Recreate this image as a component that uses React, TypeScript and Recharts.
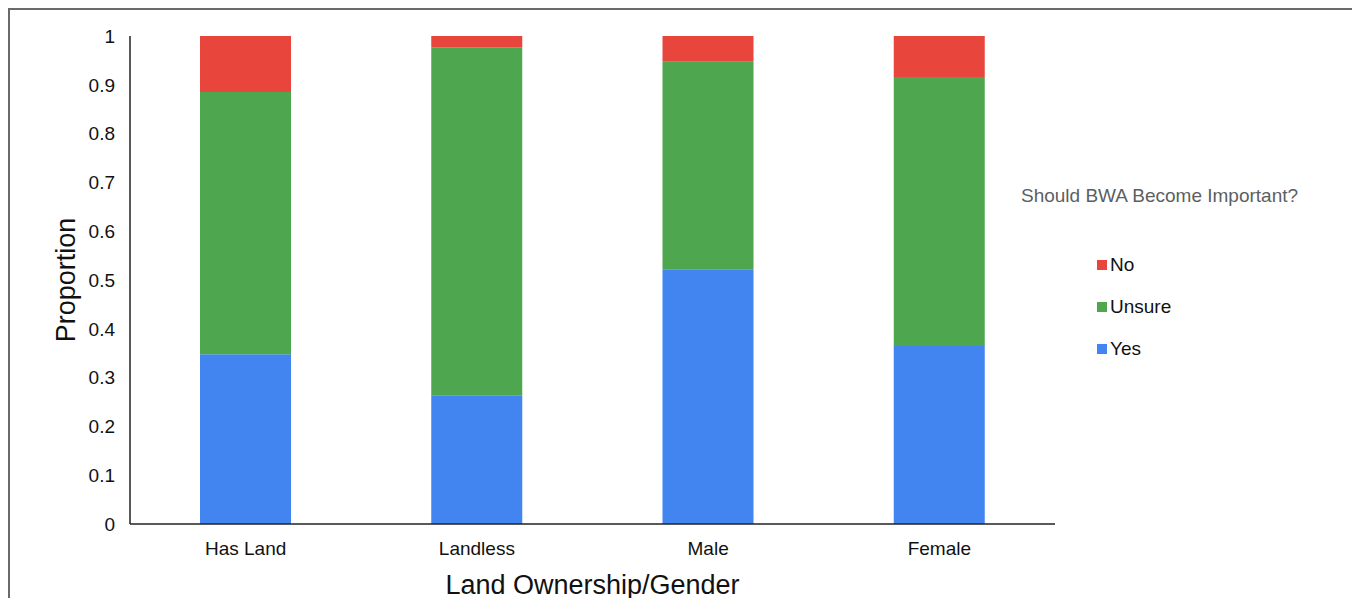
import { Bar, BarChart, Legend, XAxis, YAxis } from "recharts"

const categories = ["Has Land", "Landless", "Male", "Female"]
const yesValues = [0.348, 0.264, 0.522, 0.365]
const unsureValues = [0.537, 0.713, 0.425, 0.551]
const noValues = [0.115, 0.023, 0.053, 0.084]
const yTicks = [0, 0.1, 0.2, 0.3, 0.4, 0.5, 0.6, 0.7, 0.8, 0.9, 1]

const FONT = '"Liberation Sans", Arial, sans-serif'

const series = [
  { key: "no", name: "No", color: "#e8453c" },
  { key: "unsure", name: "Unsure", color: "#4ea64f" },
  { key: "yes", name: "Yes", color: "#4284f0" },
]

const data = categories.map((c, i) => ({
  category: c,
  yes: yesValues[i],
  unsure: unsureValues[i],
  no: noValues[i],
}))

function LegendBox() {
  return (
    <div style={{ fontFamily: FONT }}>
      <div style={{ fontSize: 19, lineHeight: "24px", color: "#5b5f63", whiteSpace: "nowrap" }}>
        Should BWA Become Important?
      </div>
      <div style={{ marginTop: 45, marginLeft: 76 }}>
        {series.map((s) => (
          <div
            key={s.key}
            style={{ height: 24, marginBottom: 18, display: "flex", alignItems: "center", fontSize: 19, color: "#111" }}
          >
            <span style={{ width: 10, height: 10, background: s.color, marginRight: 3, display: "inline-block" }} />
            {s.name}
          </div>
        ))}
      </div>
    </div>
  )
}

function YLabel({ viewBox }: any) {
  const cx = viewBox.x + 16
  const cy = viewBox.y + viewBox.height / 2
  return (
    <text
      x={cx}
      y={cy}
      transform={`rotate(-90 ${cx} ${cy})`}
      textAnchor="middle"
      dominantBaseline="central"
      fontSize={27}
      fill="#111"
    >
      Proportion
    </text>
  )
}

export default function App() {
  return (
    <div
      style={{
        width: 1344,
        height: 600,
        border: "2px solid #6a6a6a",
        borderBottom: "none",
        fontFamily: FONT,
        background: "#fff",
      }}
    >
      <style>{`body{overflow:hidden}`}</style>
      <BarChart
        width={1344}
        height={600}
        data={data}
        margin={{ top: 26, right: 299, left: 40, bottom: 20 }}
        style={{ overflow: "visible" }}
      >
        <XAxis
          dataKey="category"
          height={66}
          tickLine={false}
          tickSize={0}
          tickMargin={18}
          axisLine={{ stroke: "#222", strokeWidth: 1.5 }}
          tick={{ fontSize: 19, fill: "#111" }}
          label={{ value: "Land Ownership/Gender", position: "insideBottom", offset: -4, fontSize: 27, fill: "#111" }}
        />
        <YAxis
          type="number"
          width={80}
          domain={[0, 1]}
          ticks={yTicks}
          interval={0}
          tickLine={false}
          tickSize={0}
          tickMargin={15}
          axisLine={{ stroke: "#222", strokeWidth: 1.5 }}
          tick={{ fontSize: 19, fill: "#111" }}
          label={<YLabel />}
        />
        <Legend
          content={<LegendBox />}
          layout="horizontal"
          align="center"
          verticalAlign="middle"
          wrapperStyle={{ left: 1011, top: 174, width: 330, height: 200 }}
        />
        <Bar dataKey="yes" name="Yes" stackId="a" fill="#4284f0" barSize={91} isAnimationActive={false} />
        <Bar dataKey="unsure" name="Unsure" stackId="a" fill="#4ea64f" barSize={91} isAnimationActive={false} />
        <Bar dataKey="no" name="No" stackId="a" fill="#e8453c" barSize={91} isAnimationActive={false} />
      </BarChart>
    </div>
  )
}
